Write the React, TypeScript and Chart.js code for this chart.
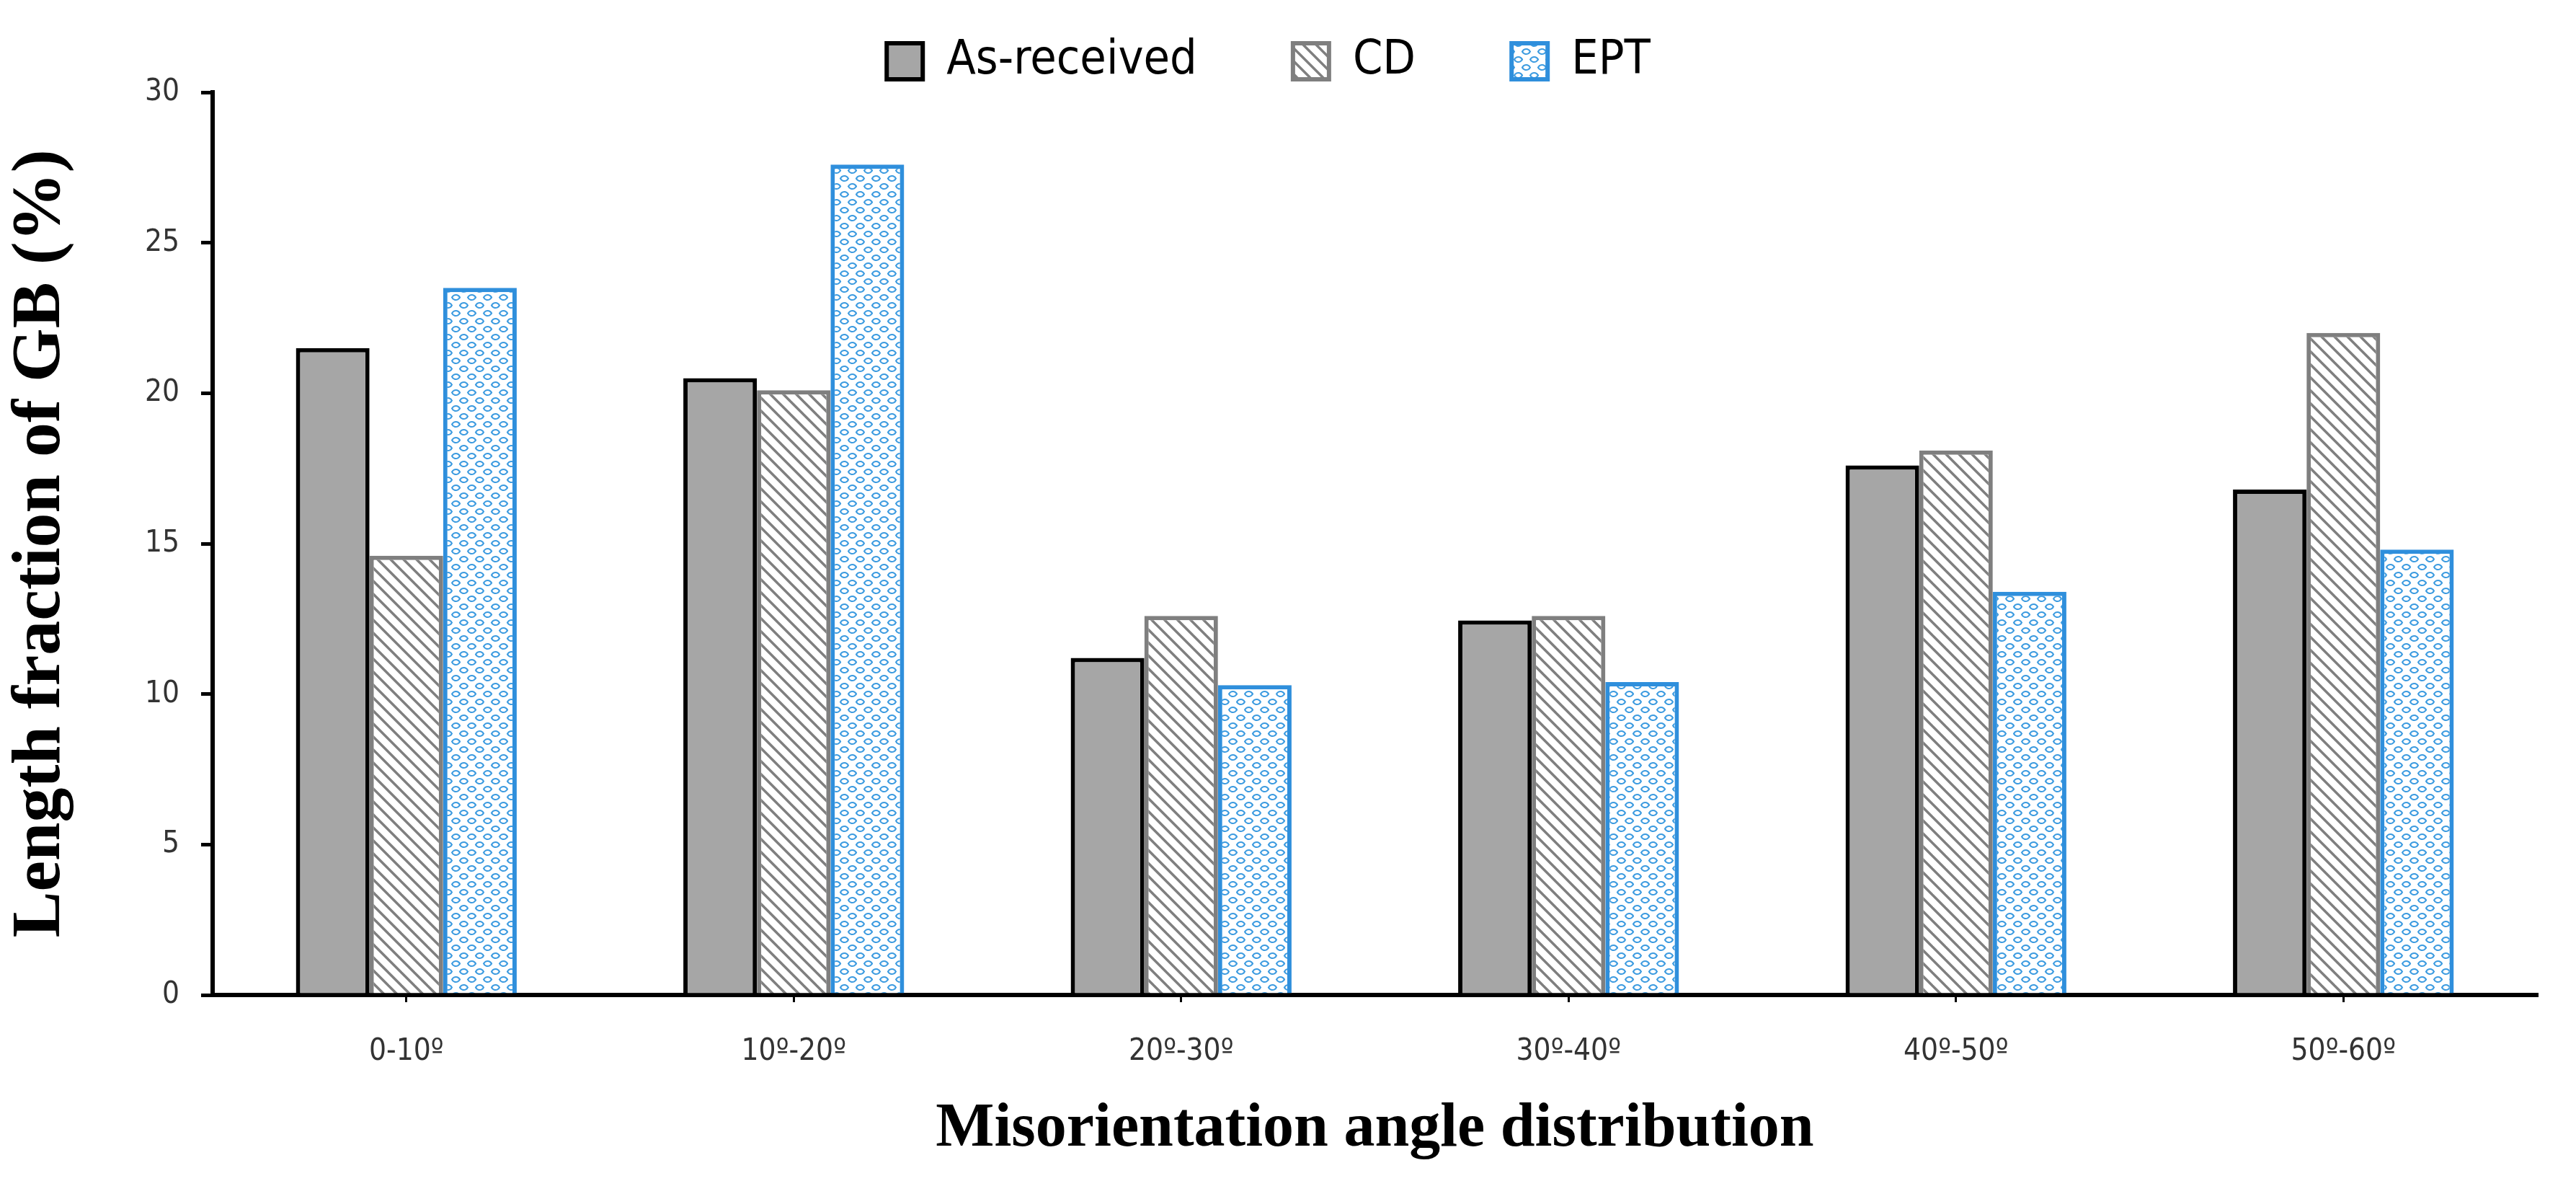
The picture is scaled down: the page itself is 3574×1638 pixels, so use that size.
import React, { useEffect, useRef } from "react";
import { Chart, registerables } from "chart.js";
Chart.register(...registerables);

const categories = ["0-10º", "10º-20º", "20º-30º", "30º-40º", "40º-50º", "50º-60º"];
const asReceived = [21.5, 20.5, 11.2, 12.45, 17.6, 16.8];
const cd = [14.6, 20.1, 12.6, 12.6, 18.1, 22.0];
const ept = [23.5, 27.6, 10.3, 10.4, 13.4, 14.8];
const seriesNames = ["As-received", "CD", "EPT"];
const yTicks = [0, 5, 10, 15, 20, 25, 30];

const SANS = "'DejaVu Sans Condensed', 'Liberation Sans Narrow', 'Open Sans', sans-serif";

function hatchPattern(): CanvasPattern | string {
  const c = document.createElement("canvas");
  c.width = 18; c.height = 18;
  const g = c.getContext("2d")!;
  g.fillStyle = "#fff"; g.fillRect(0, 0, 18, 18);
  g.strokeStyle = "#7f7f7f"; g.lineWidth = 3.5;
  for (let k = -1; k <= 1; k++) {
    g.beginPath(); g.moveTo(k * 18 - 2, -2); g.lineTo(k * 18 + 20, 20); g.stroke();
  }
  return g.createPattern(c, "repeat")!;
}

function wavePattern(): CanvasPattern | string {
  const c = document.createElement("canvas");
  c.width = 22; c.height = 22;
  const g = c.getContext("2d")!;
  g.fillStyle = "#fff"; g.fillRect(0, 0, 22, 22);
  g.strokeStyle = "#3c9be0"; g.lineWidth = 2;
  for (const [ox, oy] of [[0, 0], [11, 11], [22, 0], [0, 22], [22, 22], [-11, 11], [11, -11]]) {
    g.beginPath(); g.arc(ox + 5.5, oy + 8, 6, Math.PI * 1.1, Math.PI * 1.9); g.stroke();
    g.beginPath(); g.arc(ox + 5.5, oy + 3, 6, Math.PI * 0.1, Math.PI * 0.9); g.stroke();
  }
  return g.createPattern(c, "repeat")!;
}

export default function App() {
  const ref = useRef<HTMLCanvasElement>(null);
  useEffect(() => {
    const labelPad = ["      ", "      ", ""];
    const chart = new Chart(ref.current!, {
      type: "bar",
      data: {
        labels: categories,
        datasets: [
          { label: seriesNames[0], data: asReceived, backgroundColor: "#a6a6a6", borderColor: "#000", borderWidth: 6, borderSkipped: "bottom" },
          { label: seriesNames[1], data: cd, backgroundColor: hatchPattern(), borderColor: "#7f7f7f", borderWidth: 6, borderSkipped: "bottom" },
          { label: seriesNames[2], data: ept, backgroundColor: wavePattern(), borderColor: "#2f8fdc", borderWidth: 6, borderSkipped: "bottom" },
        ],
      },
      options: {
        animation: false,
        responsive: false,
        layout: { padding: { left: 0, right: 54, top: 32, bottom: 20 } },
        datasets: { bar: { barPercentage: 1, categoryPercentage: 0.57 } },
        plugins: {
          tooltip: { enabled: false },
          legend: {
            position: "top",
            labels: {
              font: { family: SANS, size: 66 },
              color: "#000",
              boxWidth: 50, boxHeight: 50, padding: 20,
              generateLabels: (ch: any) => {
                const items = Chart.defaults.plugins.legend.labels.generateLabels(ch);
                return items.map((it: any, i: number) => ({ ...it, text: it.text + labelPad[i] }));
              },
            },
          },
        },
        scales: {
          x: {
            afterFit: (s: any) => { s.height = 238; },
            grid: { drawOnChartArea: false, drawTicks: true, tickLength: 10, color: "#000", lineWidth: 3, offset: false },
            border: { color: "#000", width: 6 },
            ticks: { color: "#333", font: { family: SANS, size: 42 }, padding: 44 },
            title: { display: true, text: "Misorientation angle distribution", color: "#000", font: { family: "'Liberation Serif', serif", size: 86, weight: "bold" }, padding: { top: 4, bottom: 0 } },
          },
          y: {
            min: 0, max: 30,
            afterFit: (s: any) => { s.width = 295; },
            afterBuildTicks: (s: any) => { s.ticks = yTicks.map((v) => ({ value: v })); },
            grid: { drawOnChartArea: false, drawTicks: true, tickLength: 16, color: "#000", lineWidth: 5 },
            border: { color: "#000", width: 6 },
            ticks: { color: "#333", font: { family: SANS, size: 42 }, padding: 30 },
            title: { display: true, text: "Length fraction of GB (%)", color: "#000", font: { family: "'Liberation Serif', serif", size: 96, weight: "bold" }, padding: { top: 0, bottom: 30 } },
          },
        },
      },
    });
    return () => chart.destroy();
  }, []);
  return (
    <div style={{ position: "absolute", left: 0, top: 0, width: 3574, height: 1638, background: "#fff" }}>
      <canvas ref={ref} width={3574} height={1638} style={{ width: 3574, height: 1638 }} />
    </div>
  );
}
